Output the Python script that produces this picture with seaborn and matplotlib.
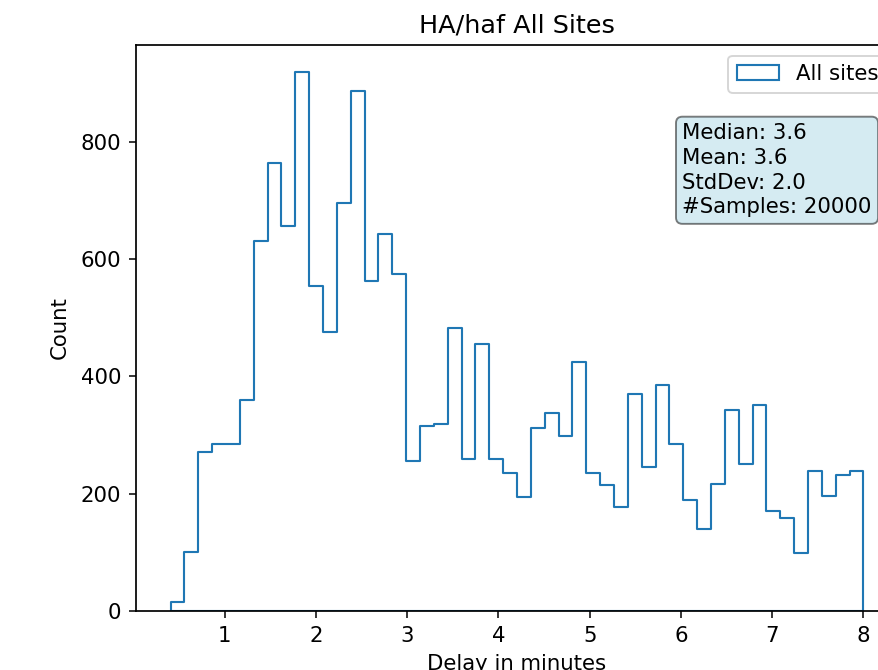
import numpy as np
import pandas as pd
import matplotlib
matplotlib.use("Agg")
import matplotlib.pyplot as plt
from matplotlib.patches import Patch
import seaborn as sns

# ---- data ----
counts = [15, 101, 271, 284, 284, 360, 630, 763, 656, 919,
          554, 476, 695, 886, 562, 643, 575, 256, 316, 319,
          483, 259, 455, 259, 235, 195, 312, 337, 298, 424,
          235, 214, 177, 370, 245, 386, 284, 189, 140, 216,
          343, 250, 351, 171, 158, 99, 239, 196, 231, 239]
bin_min = 0.408
bin_max = 8.0
n_bins = len(counts)

title = "HA/haf All Sites"
xlabel = "Delay in minutes"
ylabel = "Count"
legend_label = "All sites"
stats_lines = ["Median: 3.6", "Mean: 3.6", "StdDev: 2.0", "#Samples: 20000"]

edges = np.linspace(bin_min, bin_max, n_bins + 1)
centers = (edges[:-1] + edges[1:]) / 2
df = pd.DataFrame({"delay": centers, "count": counts})

line_color = "#1f77b4"
dpi = 138
fs = 11.1
plt.rcParams.update({
    "xtick.labelsize": fs, "ytick.labelsize": fs,
    "xtick.major.size": 3.9, "ytick.major.size": 3.9,
    "xtick.major.pad": 3.9, "ytick.major.pad": 3.9,
    "axes.linewidth": 0.9,
})
fig = plt.figure(figsize=(878 / dpi, 670 / dpi), dpi=dpi)
ax = fig.add_axes([0.1549, 0.0881, 0.8679, 0.8448])

sns.histplot(data=df, x="delay", weights="count", bins=list(edges),
             element="step", fill=True, alpha=1, color=line_color,
             linewidth=1.1, ax=ax)
for coll in ax.collections:
    coll.set_facecolor("none")
    coll.set_edgecolor(line_color)
    coll.set_linewidth(1.1)

ax.set_title(title, fontsize=13.3, pad=6.6)
ax.set_xlabel(xlabel, fontsize=fs, labelpad=4.4)
ax.set_ylabel(ylabel, fontsize=fs, labelpad=5.5)

handle = Patch(facecolor="none", edgecolor=line_color, linewidth=1.1)
ax.legend([handle], [legend_label], loc="upper right", fontsize=fs)

ax.text(0.717, 0.862, "\n".join(stats_lines), transform=ax.transAxes,
        fontsize=fs, va="top", ha="left", linespacing=1.3,
        bbox=dict(boxstyle="round", facecolor="lightblue", alpha=0.5))

fig.savefig("out.png", dpi=dpi)
